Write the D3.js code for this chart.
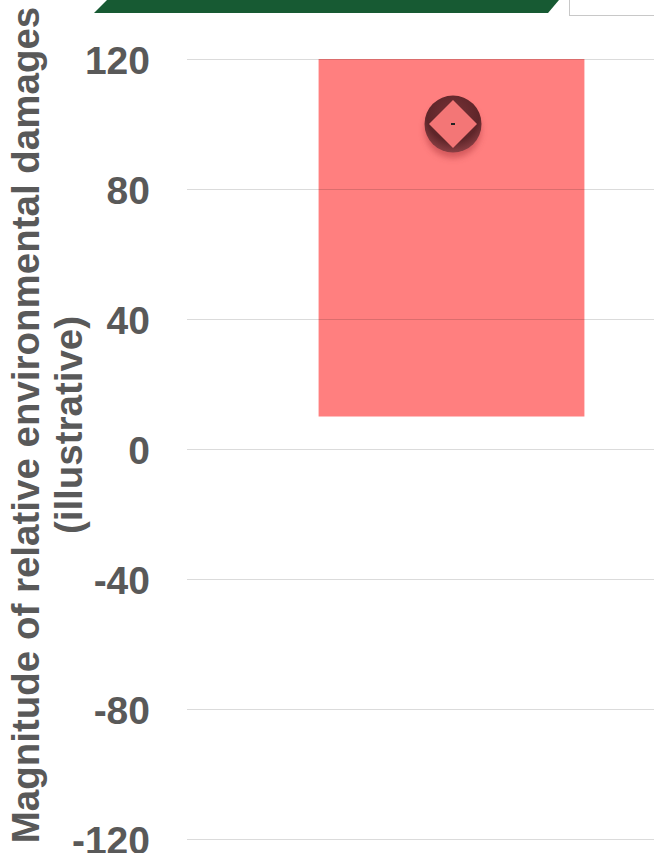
<!DOCTYPE html>
<html><head><meta charset="utf-8">
<script src="https://cdn.jsdelivr.net/npm/d3@7"></script>
<style>html,body{margin:0;padding:0;background:#fff;}svg{display:block;font-family:"Liberation Sans",Arial,sans-serif;}</style>
</head><body>
<svg id="c" width="654" height="853"></svg>
<script>
const categories = ["Option"];
const barLow = [10];
const barHigh = [120];
const pointValues = [100];
const yTicks = [-120, -80, -40, 0, 40, 80, 120];
const yTitle = ["Magnitude of relative environmental damages", "(illustrative)"];

const svg = d3.select("#c");
const y = d3.scaleLinear().domain([-120, 120]).range([839, 59]);
const x = d3.scaleBand().domain(categories).range([187, 716]).paddingInner(0).paddingOuter(0.495);

const defs = svg.append("defs");
const blur = defs.append("filter").attr("id","sh").attr("x","-50%").attr("y","-50%").attr("width","200%").attr("height","200%");
blur.append("feGaussianBlur").attr("stdDeviation", 3);
const rg = defs.append("radialGradient").attr("id","rg").attr("cx","50%").attr("cy","35%").attr("r","65%");
rg.append("stop").attr("offset","0%").attr("stop-color","#7a3338");
rg.append("stop").attr("offset","70%").attr("stop-color","#5e2529");
rg.append("stop").attr("offset","100%").attr("stop-color","#8a3f44");

// top decorations
svg.append("path").attr("d","M107,0 L559,0 L548,13 L94,13 Z").attr("fill","#175a33");
svg.append("rect").attr("x",569.5).attr("y",-2).attr("width",90).attr("height",17.5).attr("fill","#fff").attr("stroke","#c8c8c8").attr("stroke-width",1);

// bars
svg.append("g").selectAll("rect").data(categories).join("rect")
  .attr("x", d => x(d)).attr("width", x.bandwidth())
  .attr("y", (d,i) => y(barHigh[i])).attr("height", (d,i) => y(barLow[i]) - y(barHigh[i]))
  .attr("fill", "#ff7f7f");

// gridlines + tick labels
const fmt = d => String(d);
const yAxis = d3.axisLeft(y).tickValues(yTicks).tickSize(-(654-187)).tickFormat(fmt).tickPadding(37);
const ga = svg.append("g").attr("transform","translate(187,0)").call(yAxis);
ga.select(".domain").remove();
ga.selectAll(".tick line").attr("stroke","#000").attr("stroke-opacity",0.14).attr("stroke-width",1);
ga.selectAll(".tick text").attr("fill","#595959").attr("font-size",39).attr("font-weight","bold")
  .attr("font-family","'Liberation Sans',Arial,sans-serif").attr("dy","0.36em");

// markers
const cx = i => x(categories[i]) + x.bandwidth()/2 + 1.5;
const mk = svg.append("g").selectAll("g").data(pointValues).join("g")
  .attr("transform", (d,i) => `translate(${cx(i)},${y(d)})`);
mk.append("circle").attr("r", 28).attr("cy", 6).attr("fill", "#b03a40").attr("opacity", 0.55).attr("filter","url(#sh)");
mk.append("circle").attr("r", 28.5).attr("fill", "url(#rg)");
mk.append("path").attr("d","M0,-24 L24,0 L0,24 L-24,0 Z").attr("fill","#f37676");
mk.append("rect").attr("x",-2).attr("y",-1).attr("width",4).attr("height",2).attr("fill","#222");

// axis title
const t = svg.append("text").attr("transform","translate(39,425) rotate(-90)")
  .attr("text-anchor","middle").attr("fill","#595959").attr("font-weight","bold").attr("font-size",38.5);
t.append("tspan").attr("x",0).attr("y",0).text(yTitle[0]);
t.append("tspan").attr("x",0).attr("y",43).text(yTitle[1]);
</script>
</body></html>
